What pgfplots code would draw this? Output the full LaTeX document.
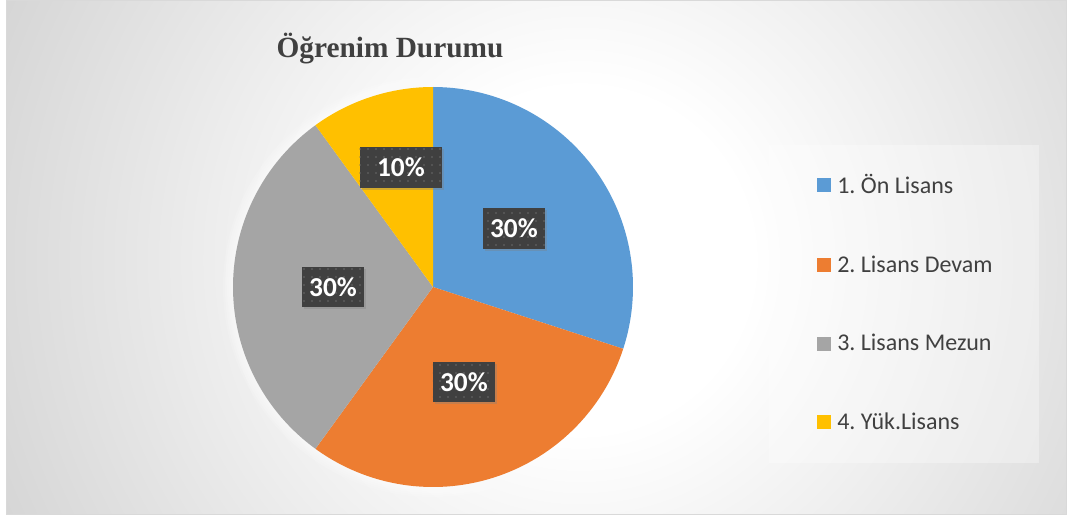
\documentclass[border=0pt]{standalone}
\usepackage{fontspec}
\setmainfont{Carlito}
\newfontfamily\titlefont{Liberation Serif}
\usepackage{pgfplots}
\pgfplotsset{compat=1.18}
\usepackage{pgfplotstable}
\usepgfplotslibrary{polar}
\usetikzlibrary{shadows,patterns.meta}
\frenchspacing

\definecolor{pie0}{HTML}{5B9BD5}
\definecolor{pie1}{HTML}{ED7D31}
\definecolor{pie2}{HTML}{A5A5A5}
\definecolor{pie3}{HTML}{FFC000}
\definecolor{labelbg}{HTML}{404040}
\definecolor{txtgray}{HTML}{404040}
\definecolor{bgouter}{HTML}{C0C0C0}
\definecolor{frame}{HTML}{D9D9D9}

\pgfdeclareradialshading{bgshade}{\pgfpoint{0bp}{0bp}}{color(0bp)=(white); color(6.5bp)=(white); color(33bp)=(bgouter); color(50bp)=(bgouter)}

\pgfdeclarepattern{name=labeldots, type=uncolored,
  bottom left={\pgfpoint{-3pt}{-3pt}}, top right={\pgfpoint{3pt}{3pt}},
  tile size={\pgfpoint{6pt}{6pt}},
  code={\pgfpathcircle{\pgfpointorigin}{0.6pt}\pgfusepath{fill}}}

% share (%), label radius (fraction of pie radius), label angle offset (deg), label box width (pt)
\pgfplotstableread{
share lrad ldang lw
30 0.50 0 47
30 0.50 0 47
30 0.50 0 47
10 0.62 -3 62
}\piedata

\begin{document}
\begin{tikzpicture}[x=0.75pt,y=0.75pt,
  lbl/.style={fill=labelbg, text=white, font=\bfseries\fontsize{20.5pt}{20.5pt}\selectfont,
    inner sep=0pt, minimum height=30.5pt,
    drop shadow={shadow xshift=1.5pt, shadow yshift=-1.5pt, opacity=0.35},
    postaction={pattern=labeldots, pattern color=white!22!labelbg}}]
\useasboundingbox (0,0) rectangle (1067,517);
\begin{scope}
  \clip (6,2) rectangle (1066,516);
  \fill[bgouter] (6,2) rectangle (1066,516);
  \shade[shading=bgshade] (580,257) circle[radius=660];
\end{scope}
\draw[frame, line width=0.75pt] (6,2) rectangle (1066,516);
% soft glow around pie
\foreach \k in {1,...,5} \fill[white, opacity=0.15] (433,230) circle[radius=200+2*\k];
% legend panel
\fill[white, opacity=0.32] (769,54) rectangle (1039,372);
\node[font=\titlefont\bfseries\fontsize{22pt}{22pt}\selectfont, text=txtgray, anchor=base] at (390,459) {Öğrenim Durumu};

\begin{polaraxis}[
  at={(324.75pt,172.5pt)}, anchor=center,
  scale only axis, width=300pt, height=300pt,
  hide axis, clip=false,
  xmin=0, xmax=360, ymin=0, ymax=1,
  legend image code/.code={\fill[#1, draw=none] (-1.5pt,-5.25pt) rectangle (9pt,5.25pt);},
  legend cell align=left,
  legend style={at={(axis description cs:1.34,0.855)}, anchor=north west,
    fill=none, draw=none, text=txtgray,
    font=\fontsize{18pt}{18pt}\selectfont,
    inner xsep=36pt, inner ysep=20pt, row sep=41pt,
    /tikz/every odd column/.append style={column sep=2.5pt}},
]
\pgfmathsetmacro\cum{90}
\pgfplotsforeachungrouped \i in {0,...,3}{%
  \pgfplotstablegetelem{\i}{share}\of\piedata
  \let\sh\pgfplotsretval
  \pgfmathsetmacro\endang{\cum-3.6*\sh}
  \edef\doplot{\noexpand\addplot[draw=none, fill=pie\i, domain=\endang:\cum, samples=90] {1} -- (axis cs:0,0) -- cycle;}
  \doplot
  \xdef\cum{\endang}
}
\pgfmathsetmacro\cum{90}
\pgfplotsforeachungrouped \i in {0,...,3}{%
  \pgfplotstablegetelem{\i}{share}\of\piedata
  \let\sh\pgfplotsretval
  \pgfplotstablegetelem{\i}{lrad}\of\piedata
  \let\lr\pgfplotsretval
  \pgfplotstablegetelem{\i}{ldang}\of\piedata
  \let\ld\pgfplotsretval
  \pgfplotstablegetelem{\i}{lw}\of\piedata
  \let\lw\pgfplotsretval
  \pgfmathsetmacro\endang{\cum-3.6*\sh}
  \pgfmathsetmacro\midang{(\cum+\endang)/2+\ld}
  \edef\dolabel{\noexpand\node[lbl, minimum width=\lw pt] at (axis cs:\midang,\lr) {\sh\noexpand\%};}
  \dolabel
  \xdef\cum{\endang}
}
\legend{1. Ön Lisans, 2. Lisans Devam, 3. Lisans Mezun, 4. Yük.Lisans}
\end{polaraxis}
\end{tikzpicture}
\end{document}
